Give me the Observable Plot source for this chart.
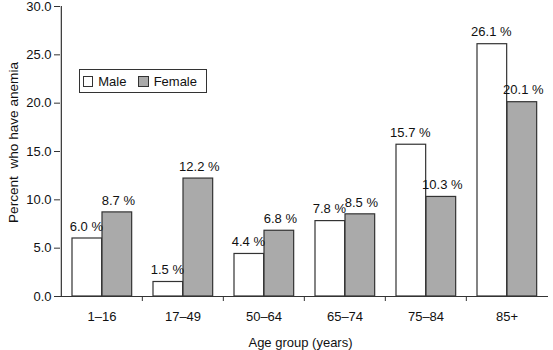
<!DOCTYPE html>
<html>
<head>
<meta charset="utf-8">
<script src="https://cdn.jsdelivr.net/npm/d3@7"></script>
<script src="https://cdn.jsdelivr.net/npm/@observablehq/plot@0.6"></script>
<style>
  html, body { margin: 0; padding: 0; background: #fff; }
  #wrap { position: relative; width: 553px; height: 350px; font-family: "Liberation Sans", Arial, Helvetica, sans-serif; }
  #legend { position: absolute; left: 79px; top: 69px; width: 126px; height: 22px; border: 1px solid #333; background: #fff; font-size: 13px; color: #111; display: flex; align-items: center; box-sizing: content-box; }
  .sw { display: inline-block; width: 9px; height: 9px; border: 1px solid #333; margin-left: 3px; margin-right: 5px; }
  .lab { margin-right: 9px; }
</style>
</head>
<body>
<div id="wrap"></div>
<script>
const ages = ["1–16", "17–49", "50–64", "65–74", "75–84", "85+"];
const male = [6.0, 1.5, 4.4, 7.8, 15.7, 26.1];
const female = [8.7, 12.2, 6.8, 8.5, 10.3, 20.1];
const yTicks = [0, 5, 10, 15, 20, 25, 30];
const seriesNames = ["Male", "Female"];
const seriesColors = ["#ffffff", "#aaaaaa"];

const W = 553, H = 350, mL = 60, mR = 5, mT = 6, mB = 54;
const step = (W - mL - mR) / ages.length;
const barW = 30;
const offL = 11;
const FS = 13;

const maleData = ages.map((a, i) => ({age: a, value: male[i]}));
const femaleData = ages.map((a, i) => ({age: a, value: female[i]}));

const font = "'Liberation Sans', Arial, Helvetica, sans-serif";

const chart = Plot.plot({
  width: W, height: H,
  marginLeft: mL, marginRight: mR, marginTop: mT, marginBottom: mB,
  style: {fontFamily: font, fontSize: "13px", color: "#111", background: "#fff"},
  x: {type: "band", domain: ages, padding: 0, axis: null},
  y: {domain: [0, 30], axis: null},
  marks: [
    Plot.barY(maleData, {x: "age", y: "value", fill: seriesColors[0], stroke: "#333", strokeWidth: 1.2,
      insetLeft: offL, insetRight: step - offL - barW}),
    Plot.barY(femaleData, {x: "age", y: "value", fill: seriesColors[1], stroke: "#333", strokeWidth: 1.2,
      insetLeft: offL + barW, insetRight: step - offL - 2 * barW}),
    Plot.text(maleData, {x: "age", y: "value", text: d => d.value.toFixed(1) + " %",
      dx: offL + barW / 2 - step / 2 - 1, dy: -12, fill: "#111", fontSize: FS}),
    Plot.text(femaleData, {x: "age", y: "value", text: d => d.value.toFixed(1) + " %",
      dx: offL + barW * 1.5 - step / 2 + 1, dy: -12, fill: "#111", fontSize: FS}),
    // axes
    Plot.ruleY([0], {stroke: "#333", strokeWidth: 1.2}),
    Plot.ruleX([ages[0]], {y1: 0, y2: 30, dx: -step / 2, stroke: "#333", strokeWidth: 1.2}),
    Plot.axisY({ticks: yTicks, tickFormat: d => d.toFixed(1), tickSize: 6, tickPadding: 3, label: null, stroke: "#333", fill: "#111", fontSize: FS}),
    Plot.axisX({ticks: ages.slice(1), tickSize: 5, tickFormat: () => "", dx: -step / 2, label: null, stroke: "#333"}),
    Plot.axisX({tickSize: 0, tickPadding: 15, label: null, fill: "#111", fontSize: FS}),
    Plot.text(["Age group (years)"], {frameAnchor: "bottom", dx: -4, dy: 50, fill: "#111", fontSize: FS}),
    Plot.text(["Percent  who have anemia"], {frameAnchor: "left", textAnchor: "middle", rotate: -90, dx: -47, dy: -9, fill: "#111", fontSize: 13.6})
  ]
});

const wrap = document.getElementById("wrap");
wrap.appendChild(chart);
const legend = document.createElement("div");
legend.id = "legend";
seriesNames.forEach((n, i) => {
  const sw = document.createElement("span");
  sw.className = "sw";
  sw.style.background = seriesColors[i];
  legend.appendChild(sw);
  const t = document.createElement("span");
  t.className = "lab";
  t.textContent = n;
  legend.appendChild(t);
});
wrap.appendChild(legend);
</script>
</body>
</html>
